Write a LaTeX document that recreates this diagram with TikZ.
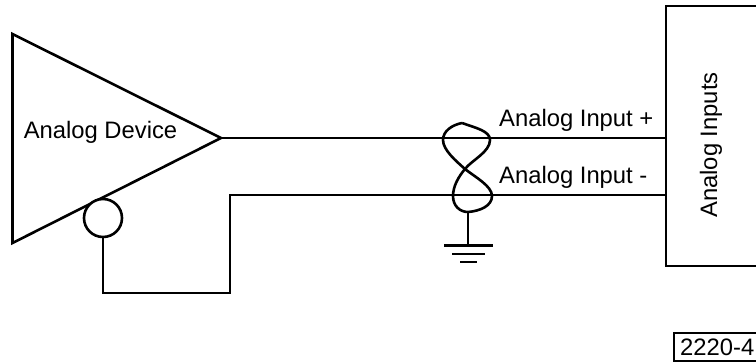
\documentclass[tikz,border=0pt]{standalone}
\usepackage{fontspec}
\setmainfont{Liberation Sans}
\usetikzlibrary{math}
\tikzset{
  wire/.style={line width=2.6pt, line join=miter},
  label/.style={font=\fontsize{23.8}{28}\selectfont, inner sep=0pt},
}

\begin{document}
\begin{tikzpicture}[x=1pt, y=-1pt]
  \tikzmath{\ytop = 138; \ybot = 195; \boxl = 666;}
  \clip (0, 0) rectangle (756, 364);
  \useasboundingbox (0, 0) rectangle (756, 364);

  % device and its shield connection
  \coordinate (devTop) at (12.5, 34);
  \coordinate (devBot) at (12.5, 243);
  \coordinate (devOut) at (221, \ytop);
  \draw[wire] (devTop) -- (devOut) -- (devBot) -- cycle;
  \node[label] (devName) at (100.5, 132) {Analog Device};
  \node[wire, draw, fill=white, circle, minimum size=38pt, inner sep=0pt] (shield) at (103, 218) {};
  \coordinate (retL) at (103, 293);
  \coordinate (retR) at (230, 293);
  \coordinate (retT) at (230, \ybot);

  % input box
  \draw[wire] (770, 6) -- (\boxl, 6) -- (\boxl, 266) -- (770, 266);
  \coordinate (inTop) at (\boxl, \ytop);
  \coordinate (inBot) at (\boxl, \ybot);
  \node[label, rotate=90] (inName) at (711, 145) {Analog Inputs};

  \draw[wire] (devOut) -- (inTop);
  \draw[wire] (shield.south) -- (retL) -- (retR) -- (retT) -- (inBot);
  \node[label, anchor=base west] (plusName) at (499, 126) {Analog Input +};
  \node[label, anchor=base west] (minusName) at (499, 183) {Analog Input -};

  % twisted pair
  \coordinate (twTop) at (462, 123);
  \coordinate (twBot) at (468, 212);
  \draw[wire] (twTop) .. controls (476, 128) and (490, 131) .. (490, 140)
    .. controls (490, 152) and (472, 160) .. (465, 169)
    .. controls (459, 176) and (453, 186) .. (453, 196)
    .. controls (453, 206) and (460, 212) .. (twBot)
    .. controls (480, 211) and (492, 206) .. (492, 196)
    .. controls (492, 186) and (475, 177) .. (465, 169)
    .. controls (456, 161) and (443, 150) .. (443, 140)
    .. controls (443, 131) and (452, 125) .. (twTop);

  % ground
  \coordinate (gndA) at (468, 245);
  \draw[wire] (twBot) -- (gndA);
  \draw[wire] (444, 245.5) -- (493, 245.5);
  \draw[wire] (452, 254) -- (485, 254);
  \draw[wire] (460, 262) -- (477, 262);

  % drawing number
  \draw[wire] (770, 333) -- (674, 333) -- (674, 361) -- (770, 361);
  \node[label, anchor=west] (tag) at (680, 347) {2220-4};
\end{tikzpicture}
\end{document}
